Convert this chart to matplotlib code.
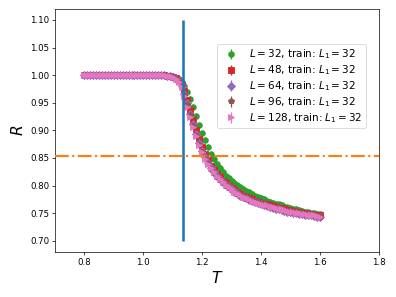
import numpy as np
import matplotlib
matplotlib.use("Agg")
import matplotlib.pyplot as plt

# temperature grid (0.80 .. 1.60)
T = [0.80, 0.81, 0.82, 0.83, 0.84, 0.85, 0.86, 0.87, 0.88, 0.89,
     0.90, 0.91, 0.92, 0.93, 0.94, 0.95, 0.96, 0.97, 0.98, 0.99,
     1.00, 1.01, 1.02, 1.03, 1.04, 1.05, 1.06, 1.07, 1.08, 1.09,
     1.10, 1.11, 1.12, 1.13, 1.14, 1.15, 1.16, 1.17, 1.18, 1.19,
     1.20, 1.21, 1.22, 1.23, 1.24, 1.25, 1.26, 1.27, 1.28, 1.29,
     1.30, 1.31, 1.32, 1.33, 1.34, 1.35, 1.36, 1.37, 1.38, 1.39,
     1.40, 1.41, 1.42, 1.43, 1.44, 1.45, 1.46, 1.47, 1.48, 1.49,
     1.50, 1.51, 1.52, 1.53, 1.54, 1.55, 1.56, 1.57, 1.58, 1.59,
     1.60]

# ordered phase: R = 1 for T in 0.80 .. 1.07 (28 points, all sizes)
plateau = [1.000, 1.000, 1.000, 1.000, 1.000, 1.000, 1.000, 1.000, 1.000, 1.000,
           1.000, 1.000, 1.000, 1.000, 1.000, 1.000, 1.000, 1.000, 1.000, 1.000,
           1.000, 1.000, 1.000, 1.000, 1.000, 1.000, 1.000, 1.000]

# T = 1.08 .. 1.60
R_32 = [0.999, 0.998, 0.997, 0.995, 0.993, 0.988, 0.981, 0.970, 0.957, 0.943,
        0.926, 0.909, 0.895, 0.882, 0.870, 0.858, 0.848, 0.839, 0.831, 0.824,
        0.818, 0.813, 0.809, 0.805, 0.801, 0.797, 0.794, 0.791, 0.788, 0.785,
        0.782, 0.780, 0.777, 0.775, 0.773, 0.771, 0.769, 0.767, 0.766, 0.764,
        0.762, 0.761, 0.759, 0.758, 0.757, 0.755, 0.754, 0.753, 0.752, 0.751,
        0.750, 0.749, 0.748]
R_48 = [0.999, 0.998, 0.996, 0.994, 0.990, 0.983, 0.971, 0.955, 0.937, 0.918,
        0.900, 0.884, 0.870, 0.857, 0.846, 0.836, 0.828, 0.821, 0.815, 0.809,
        0.804, 0.800, 0.796, 0.792, 0.788, 0.785, 0.782, 0.780, 0.777, 0.775,
        0.773, 0.771, 0.769, 0.767, 0.766, 0.764, 0.763, 0.761, 0.760, 0.759,
        0.757, 0.756, 0.755, 0.754, 0.753, 0.752, 0.751, 0.750, 0.749, 0.748,
        0.747, 0.747, 0.746]
R_64 = [0.999, 0.998, 0.996, 0.993, 0.989, 0.980, 0.966, 0.949, 0.930, 0.911,
        0.893, 0.877, 0.863, 0.851, 0.841, 0.832, 0.824, 0.818, 0.812, 0.806,
        0.801, 0.797, 0.793, 0.789, 0.786, 0.782, 0.779, 0.777, 0.774, 0.772,
        0.770, 0.768, 0.766, 0.764, 0.763, 0.761, 0.760, 0.758, 0.757, 0.756,
        0.754, 0.753, 0.752, 0.751, 0.750, 0.749, 0.748, 0.747, 0.746, 0.746,
        0.745, 0.744, 0.743]
R_96 = [0.999, 0.998, 0.996, 0.993, 0.988, 0.979, 0.964, 0.946, 0.927, 0.908,
        0.890, 0.874, 0.861, 0.849, 0.839, 0.830, 0.823, 0.816, 0.810, 0.805,
        0.800, 0.796, 0.792, 0.788, 0.785, 0.782, 0.779, 0.776, 0.774, 0.772,
        0.770, 0.768, 0.766, 0.764, 0.763, 0.761, 0.760, 0.758, 0.757, 0.756,
        0.754, 0.753, 0.752, 0.751, 0.750, 0.749, 0.748, 0.747, 0.746, 0.746,
        0.745, 0.744, 0.744]
R_128 = [0.999, 0.998, 0.996, 0.993, 0.988, 0.978, 0.962, 0.943, 0.924, 0.906,
         0.889, 0.873, 0.860, 0.849, 0.840, 0.832, 0.825, 0.818, 0.812, 0.806,
         0.801, 0.797, 0.793, 0.789, 0.786, 0.783, 0.780, 0.778, 0.775, 0.773,
         0.771, 0.769, 0.767, 0.765, 0.764, 0.762, 0.761, 0.759, 0.758, 0.757,
         0.756, 0.754, 0.753, 0.752, 0.751, 0.750, 0.749, 0.748, 0.747, 0.746,
         0.746, 0.745, 0.744]

SIZES = [32, 48, 64, 96, 128]
L_TRAIN = 32
ERR = 0.002
T_C = 1.1346
R_STAR = 0.853

series = {32: R_32, 48: R_48, 64: R_64, 96: R_96, 128: R_128}
colors = ["tab:green", "tab:red", "tab:purple", "tab:brown", "tab:pink"]
markers = ["o", "s", "D", "p", ">"]

fig = plt.figure(figsize=(6.4, 4.8))
ax = fig.add_axes([0.139, 0.152, 0.817, 0.818])

for L, c, m in zip(SIZES, colors, markers):
    r = plateau + series[L]
    ax.errorbar(T, r, yerr=ERR, fmt=m, color=c, markersize=6.5, capsize=0,
                linestyle="none",
                label=r"$L=%d$, train: $L_1=%d$" % (L, L_TRAIN))

ax.vlines(T_C, 0.70, 1.10, color="tab:blue", linewidth=3, zorder=3)
ax.axhline(R_STAR, color="tab:orange", linestyle="-.", linewidth=2.5, zorder=3)

ax.set_xlim(0.7, 1.8)
ax.set_ylim(0.68, 1.12)
ax.set_xticks([0.8, 1.0, 1.2, 1.4, 1.6, 1.8])
ax.set_yticks([0.70, 0.75, 0.80, 0.85, 0.90, 0.95, 1.00, 1.05, 1.10])
ax.set_xlabel(r"$T$", fontsize=18)
ax.set_ylabel(r"$R$", fontsize=18)

ax.legend(loc="upper left", bbox_to_anchor=(0.50, 0.856), borderaxespad=0,
          fontsize=12, borderpad=0.35, labelspacing=0.2)

fig.savefig("out.png", dpi=61.875)
